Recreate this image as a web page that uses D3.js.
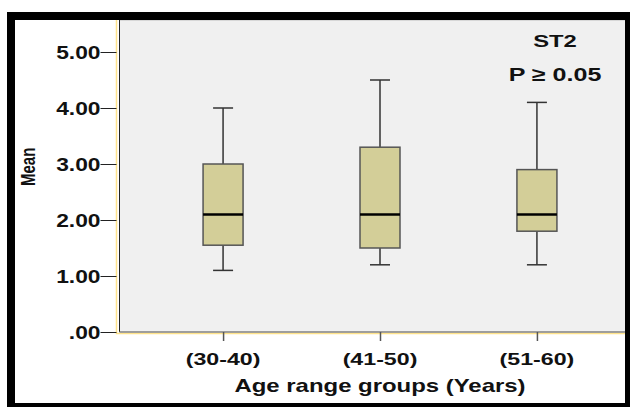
<!DOCTYPE html>
<html>
<head>
<meta charset="utf-8">
<script src="https://cdn.jsdelivr.net/npm/d3@7"></script>
<style>
  html, body { margin: 0; padding: 0; background: #fff; }
  svg { display: block; }
  text { font-family: "Liberation Sans", Arial, sans-serif; font-weight: bold; fill: #111; }
</style>
</head>
<body>
<svg id="chart" width="630" height="407"></svg>
<script>
// Age groups and box-plot statistics for ST2
const groups   = ["(30-40)", "(41-50)", "(51-60)"];
const whiskLo  = [1.1, 1.2, 1.2];
const q1       = [1.55, 1.5, 1.8];
const medians  = [2.1, 2.1, 2.1];
const q3       = [3.0, 3.3, 2.9];
const whiskHi  = [4.0, 4.5, 4.1];
const yTicks   = [0, 1, 2, 3, 4, 5];
const yTickFmt = v => v === 0 ? ".00" : v.toFixed(2);

const svg = d3.select("#chart");

// outer black frame
svg.append("rect").attr("x", 7).attr("y", 12).attr("width", 623).attr("height", 395).attr("fill", "#000");
svg.append("rect").attr("x", 15).attr("y", 20).attr("width", 610).attr("height", 383).attr("fill", "#fff");

const plot = { left: 119.5, top: 20, right: 640.5, bottom: 332 };

const y = d3.scaleLinear().domain([0, 5]).range([plot.bottom, 52]);
const x = d3.scalePoint().domain(groups).range([plot.left, plot.right]).padding(0.66);

svg.append("clipPath").attr("id", "inner")
  .append("rect").attr("x", 15).attr("y", 20).attr("width", 610).attr("height", 383);

const g = svg.append("g").attr("clip-path", "url(#inner)");

// plot background
g.append("rect")
  .attr("x", plot.left).attr("y", plot.top)
  .attr("width", plot.right - plot.left).attr("height", plot.bottom - plot.top)
  .attr("fill", "#f0f0f0").attr("stroke", "#bdbdbd").attr("stroke-width", 1);

// yellow chart-region border
g.append("path")
  .attr("d", `M116.5,${plot.top}V333.5H${plot.right}`)
  .attr("fill", "none").attr("stroke", "#ffe38a").attr("stroke-width", 1.5);

// plot frame lines
g.append("line").attr("x1", plot.left).attr("x2", plot.left)
  .attr("y1", plot.top).attr("y2", plot.bottom)
  .attr("stroke", "#222").attr("stroke-width", 1);
g.append("line").attr("x1", plot.left).attr("x2", plot.right)
  .attr("y1", plot.bottom).attr("y2", plot.bottom)
  .attr("stroke", "#8a8a8a").attr("stroke-width", 1.5);

// y axis
const yAxis = d3.axisLeft(y).tickValues(yTicks).tickSize(16).tickFormat("");
const ya = g.append("g").attr("transform", "translate(116.5,0)").call(yAxis);
ya.select(".domain").remove();
ya.selectAll(".tick line").attr("stroke", "#222").attr("stroke-width", 1);

g.selectAll(".ylab").data(yTicks).enter().append("text")
  .attr("class", "ylab")
  .attr("transform", d => `translate(100.5,${y(d) + 7}) scale(1.2,1)`)
  .attr("text-anchor", "end")
  .style("font-size", "19px")
  .text(yTickFmt);

// x axis ticks
const xAxis = d3.axisBottom(x).tickSize(9).tickFormat("");
const xa = g.append("g").attr("transform", `translate(0,${plot.bottom})`).call(xAxis);
xa.select(".domain").remove();
xa.selectAll(".tick line").attr("stroke", "#555").attr("stroke-width", 1.5);

g.selectAll(".xlab").data(groups).enter().append("text")
  .attr("class", "xlab")
  .attr("transform", d => `translate(${x(d)},364.5) scale(1.45,1)`)
  .attr("text-anchor", "middle")
  .style("font-size", "16px")
  .text(d => d);

// axis titles
g.append("text")
  .attr("transform", `translate(35,${y(2.95)}) scale(1.4,1) rotate(-90)`)
  .attr("text-anchor", "middle")
  .style("font-size", "15px")
  .text("Mean");

g.append("text")
  .attr("transform", `translate(${x(groups[1])},392) scale(1.33,1)`)
  .attr("text-anchor", "middle")
  .style("font-size", "18px")
  .text("Age range groups (Years)");

// boxes
const boxW = 40, capW = 20;
const boxes = g.selectAll(".box").data(groups.map((k, i) => ({
  k, lo: whiskLo[i], q1: q1[i], med: medians[i], q3: q3[i], hi: whiskHi[i]
}))).enter().append("g").attr("class", "box");

boxes.append("line")
  .attr("x1", d => x(d.k)).attr("x2", d => x(d.k))
  .attr("y1", d => y(d.hi)).attr("y2", d => y(d.q3))
  .attr("stroke", "#333").attr("stroke-width", 1.5);
boxes.append("line")
  .attr("x1", d => x(d.k)).attr("x2", d => x(d.k))
  .attr("y1", d => y(d.q1)).attr("y2", d => y(d.lo))
  .attr("stroke", "#333").attr("stroke-width", 1.5);
boxes.append("line")
  .attr("x1", d => x(d.k) - capW / 2).attr("x2", d => x(d.k) + capW / 2)
  .attr("y1", d => y(d.hi)).attr("y2", d => y(d.hi))
  .attr("stroke", "#333").attr("stroke-width", 1.5);
boxes.append("line")
  .attr("x1", d => x(d.k) - capW / 2).attr("x2", d => x(d.k) + capW / 2)
  .attr("y1", d => y(d.lo)).attr("y2", d => y(d.lo))
  .attr("stroke", "#333").attr("stroke-width", 1.5);
boxes.append("rect")
  .attr("x", d => x(d.k) - boxW / 2).attr("width", boxW)
  .attr("y", d => y(d.q3)).attr("height", d => y(d.q1) - y(d.q3))
  .attr("fill", "#d3ce98").attr("stroke", "#555").attr("stroke-width", 1.5);
boxes.append("line")
  .attr("x1", d => x(d.k) - boxW / 2).attr("x2", d => x(d.k) + boxW / 2)
  .attr("y1", d => y(d.med)).attr("y2", d => y(d.med))
  .attr("stroke", "#000").attr("stroke-width", 2.5);

// annotation
g.append("text")
  .attr("transform", "translate(555,46.5) scale(1.4,1)")
  .attr("text-anchor", "middle")
  .style("font-size", "17px")
  .text("ST2");
g.append("text")
  .attr("transform", "translate(555,80.5) scale(1.32,1)")
  .attr("text-anchor", "middle")
  .style("font-size", "19px")
  .text("P \u2265 0.05");
</script>
</body>
</html>
